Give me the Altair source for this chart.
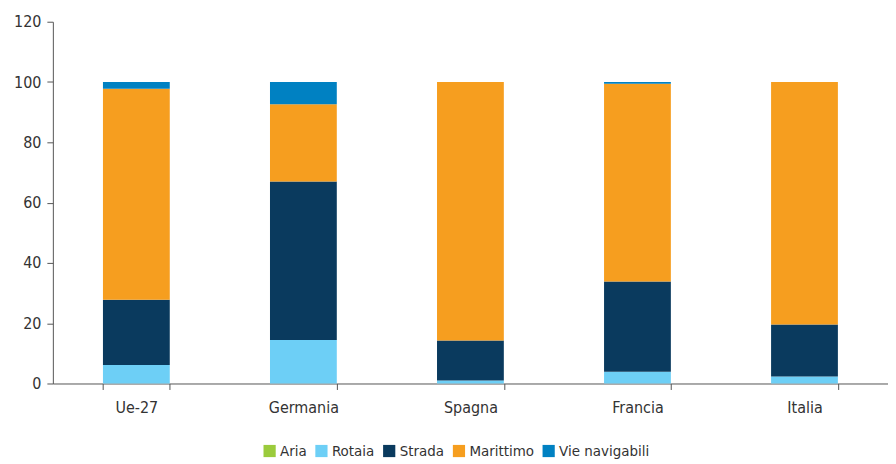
import altair as alt
import pandas as pd

countries = ["Ue-27", "Germania", "Spagna", "Francia", "Italia"]
modes = ["Aria", "Rotaia", "Strada", "Marittimo", "Vie navigabili"]
colors = ["#9BCB3C", "#6DCFF6", "#0A3A5E", "#F69E1F", "#0081C2"]

aria = [0.0, 0.0, 0.0, 0.0, 0.0]
rotaia = [6.1, 14.4, 1.0, 3.9, 2.3]
strada = [21.7, 52.6, 13.3, 29.9, 17.3]
marittimo = [70.0, 25.6, 85.7, 65.6, 80.4]
vie_navigabili = [2.2, 7.4, 0.0, 0.6, 0.0]

series = [aria, rotaia, strada, marittimo, vie_navigabili]
rows = []
for mi, (m, vals) in enumerate(zip(modes, series)):
    for c, v in zip(countries, vals):
        rows.append({"Paese": c, "Modo": m, "Valore": v, "ord": mi})
df = pd.DataFrame(rows)

font = "DejaVu Sans Condensed, Liberation Sans Narrow, Roboto Condensed, sans-serif"

chart = alt.Chart(df).mark_bar(stroke=None).encode(
    x=alt.X("Paese:N", sort=countries, title=None,
            scale=alt.Scale(paddingInner=0.6, paddingOuter=0.3),
            axis=alt.Axis(labelAngle=0, tickBand="extent", domainColor="#555555",
                          tickColor="#555555", labelFontSize=16, labelColor="#333333",
                          labelFont=font, labelPadding=10, tickSize=6)),
    y=alt.Y("Valore:Q", stack="zero", title=None,
            scale=alt.Scale(domain=[0, 120], nice=False),
            axis=alt.Axis(values=[0, 20, 40, 60, 80, 100, 120], grid=False,
                          domainColor="#555555", tickColor="#555555", tickSize=6,
                          labelFontSize=16, labelColor="#333333", labelFont=font,
                          labelPadding=6)),
    color=alt.Color("Modo:N", sort=modes,
                    scale=alt.Scale(domain=modes, range=colors),
                    legend=alt.Legend(orient="none", direction="horizontal", title=None,
                                      legendX=210, legendY=423,
                                      symbolType="square", symbolSize=150, symbolStrokeWidth=0,
                                      labelFontSize=15, labelFont=font, labelColor="#333333",
                                      columnPadding=7, labelOffset=3)),
    order=alt.Order("ord:Q", sort="ascending"),
).properties(
    width=838, height=363,
    autosize=alt.AutoSizeParams(type="none"),
    padding={"left": 45, "top": 13, "right": 0, "bottom": 78},
).configure_view(stroke=None)

chart.save("out.html", embed_options={"renderer": "svg", "actions": False})
